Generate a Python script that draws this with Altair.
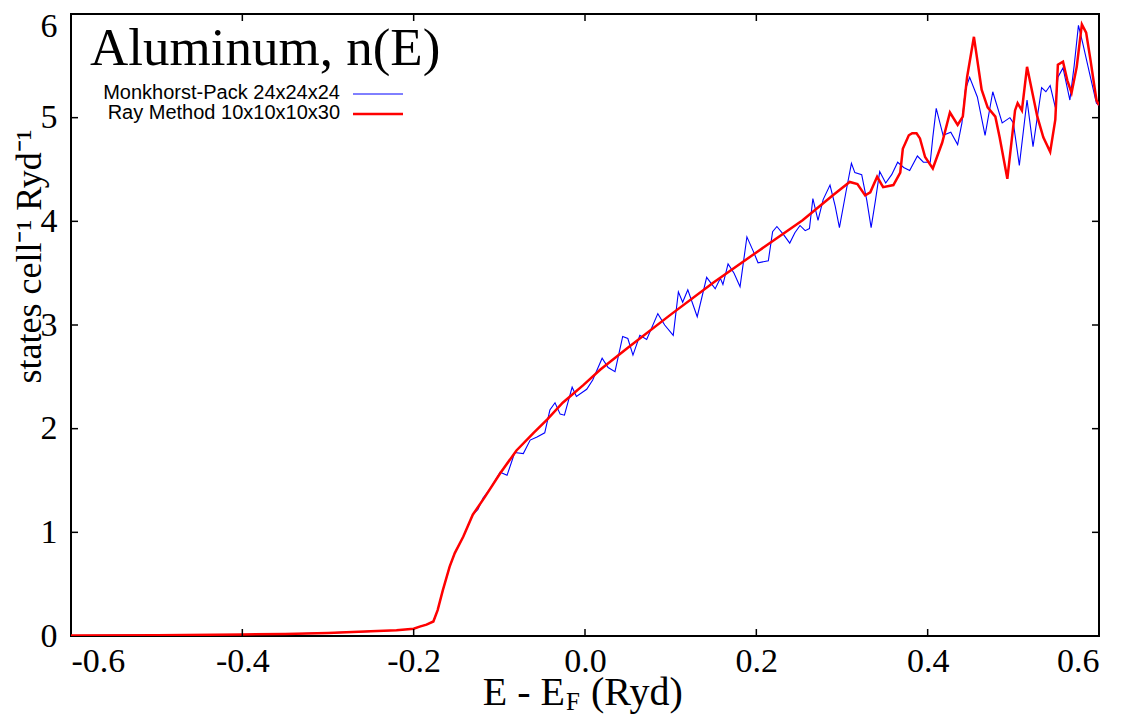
import altair as alt
import pandas as pd

# Monkhorst-Pack 24x24x24 (blue, noisy)
mp_x = [-0.6, -0.5, -0.4, -0.35, -0.3, -0.25, -0.22, -0.2, -0.193, -0.185, -0.177, -0.172,
        -0.166, -0.158, -0.152, -0.142, -0.131, -0.125, -0.119, -0.11, -0.099, -0.091,
        -0.082, -0.072, -0.064, -0.056, -0.047, -0.041, -0.035, -0.029, -0.024, -0.015,
        -0.01, 0.002, 0.009, 0.02, 0.027, 0.035, 0.044, 0.05, 0.056, 0.064, 0.072, 0.085,
        0.093, 0.103, 0.109, 0.114, 0.12, 0.131, 0.142, 0.152, 0.158, 0.161, 0.167, 0.174,
        0.181, 0.189, 0.196, 0.202, 0.214, 0.219, 0.224, 0.232, 0.239, 0.245, 0.251, 0.257,
        0.262, 0.266, 0.272, 0.278, 0.286, 0.292, 0.297, 0.305, 0.311, 0.315, 0.323, 0.329,
        0.334, 0.339, 0.344, 0.351, 0.358, 0.365, 0.372, 0.379, 0.388, 0.395, 0.403, 0.406,
        0.41, 0.418, 0.427, 0.435, 0.44, 0.444, 0.449, 0.458, 0.467, 0.476, 0.487, 0.496,
        0.5, 0.507, 0.516, 0.523, 0.533, 0.538, 0.543, 0.549, 0.552, 0.558, 0.566, 0.571,
        0.576, 0.581, 0.59, 0.597, 0.6]
mp_y = [0.005, 0.008, 0.015, 0.02, 0.03, 0.045, 0.055, 0.07, 0.09, 0.11, 0.14, 0.25,
        0.44, 0.67, 0.8, 0.96, 1.17, 1.22, 1.33, 1.43, 1.58, 1.55,
        1.77, 1.76, 1.89, 1.92, 1.96, 2.18, 2.25, 2.14, 2.13, 2.4,
        2.31, 2.38, 2.47, 2.68, 2.59, 2.55, 2.89, 2.87, 2.71, 2.9, 2.86, 3.11,
        3.0, 2.9, 3.32, 3.22, 3.34, 3.08, 3.46, 3.35, 3.45, 3.39, 3.59, 3.5,
        3.37, 3.85, 3.72, 3.6, 3.62, 3.9, 3.95, 3.87, 3.79, 3.89, 3.96, 3.91,
        3.93, 4.22, 4.01, 4.21, 4.35, 4.15, 3.94, 4.3, 4.56, 4.47, 4.45, 4.2,
        3.94, 4.2, 4.48, 4.37, 4.45, 4.57, 4.52, 4.49, 4.63, 4.57, 4.57, 4.81,
        5.09, 4.83, 4.86, 4.74, 4.95, 5.27, 5.39, 5.2, 4.83, 5.25, 4.95, 5.0,
        4.95, 4.54, 5.17, 4.72, 5.29, 5.25, 5.31, 5.1, 5.39, 5.48, 5.17, 5.5,
        5.89, 5.72, 5.39, 5.14, 5.12]

# Ray Method 10x10x10x30 (red, smooth)
ray_x = [-0.6, -0.5, -0.4, -0.35, -0.3, -0.25, -0.22, -0.2, -0.193, -0.185, -0.177, -0.172,
         -0.166, -0.158, -0.152, -0.142, -0.131, -0.117, -0.099, -0.08, -0.06, -0.044,
         -0.026, -0.002, 0.018, 0.05, 0.1, 0.15, 0.2, 0.254, 0.289, 0.309, 0.318, 0.327,
         0.333, 0.341, 0.348, 0.36, 0.368, 0.371, 0.378, 0.382, 0.387, 0.391, 0.397, 0.406,
         0.417, 0.426, 0.435, 0.441, 0.446, 0.454, 0.463, 0.47, 0.479, 0.484, 0.493, 0.502,
         0.505, 0.51, 0.516, 0.528, 0.535, 0.543, 0.549, 0.552, 0.558, 0.563, 0.568, 0.574,
         0.58, 0.585, 0.59, 0.597, 0.6]
ray_y = [0.005, 0.008, 0.015, 0.02, 0.03, 0.045, 0.055, 0.07, 0.09, 0.11, 0.14, 0.25,
         0.44, 0.67, 0.8, 0.96, 1.17, 1.34, 1.57, 1.79, 1.96, 2.09,
         2.25, 2.42, 2.57, 2.78, 3.1, 3.41, 3.7, 4.01, 4.25, 4.38, 4.36, 4.25,
         4.28, 4.43, 4.33, 4.35, 4.47, 4.7, 4.83, 4.85, 4.85, 4.8, 4.62, 4.51,
         4.76, 5.05, 4.93, 5.01, 5.39, 5.78, 5.27, 5.1, 5.01, 4.81, 4.41, 5.07,
         5.14, 5.07, 5.49, 5.01, 4.81, 4.67, 4.98, 5.51, 5.54, 5.36, 5.24, 5.49,
         5.9, 5.82, 5.56, 5.17, 5.12]

x_tick_values = [-0.6, -0.4, -0.2, 0.0, 0.2, 0.4, 0.6]
y_tick_values = [0, 1, 2, 3, 4, 5, 6]
x_inner_ticks = [-0.4, -0.2, 0.0, 0.2, 0.4]
y_inner_ticks = [1, 2, 3, 4, 5]

series_names = ["Monkhorst-Pack 24x24x24", "Ray Method 10x10x10x30"]
title_text = "Aluminum, n(E)"
y_title = "states cell\u207b\u00b9 Ryd\u207b\u00b9"

W, H = 1028, 622
XMIN, XMAX, YMIN, YMAX = -0.6, 0.6, 0.0, 6.0
tx = 7 * (XMAX - XMIN) / W
ty = 7 * (YMAX - YMIN) / H

mp_df = pd.DataFrame({"x": mp_x, "y": mp_y})
ray_df = pd.DataFrame({"x": ray_x, "y": ray_y})

xs = alt.Scale(domain=[XMIN, XMAX], nice=False, zero=False)
ys = alt.Scale(domain=[YMIN, YMAX], nice=False, zero=False)

serif = "Liberation Serif"
sans = "Liberation Sans"

x_axis = alt.Axis(values=x_tick_values, title=None, ticks=False, domain=False, grid=False,
                  labelFont=serif, labelFontSize=34, labelColor="black", labelPadding=8,
                  labelExpr="datum.value < 0 ? '-' + format(-datum.value, '.1f') : format(datum.value, '.1f')")
y_axis = alt.Axis(values=y_tick_values, title=y_title, ticks=False, domain=False, grid=False,
                  labelFont=serif, labelFontSize=34, labelColor="black", labelPadding=14,
                  labelOffset={"condition": {"test": "datum.value == 6", "value": 12}, "value": 0},
                  format="d", titleFont=serif, titleFontSize=36, titleFontWeight="normal",
                  titleColor="black", titleX=-31, titleY=242, titleAlign="center",
                  titleBaseline="alphabetic", titleAngle=270)

blue = alt.Chart(mp_df).mark_line(color="#0000ff", strokeWidth=1.1, clip=True).encode(
    x=alt.X("x:Q", scale=xs, axis=x_axis),
    y=alt.Y("y:Q", scale=ys, axis=y_axis),
)
red = alt.Chart(ray_df).mark_line(color="#ff0000", strokeWidth=2.5, clip=True).encode(
    x=alt.X("x:Q", scale=xs),
    y=alt.Y("y:Q", scale=ys),
)

vt = pd.DataFrame(
    [{"x": v, "y1": YMIN, "y2": YMIN + ty} for v in x_inner_ticks]
    + [{"x": v, "y1": YMAX, "y2": YMAX - ty} for v in x_inner_ticks]
)
ht = pd.DataFrame(
    [{"y": v, "x1": XMIN, "x2": XMIN + tx} for v in y_inner_ticks]
    + [{"y": v, "x1": XMAX, "x2": XMAX - tx} for v in y_inner_ticks]
)
vticks = alt.Chart(vt).mark_rule(color="black", strokeWidth=1.5).encode(
    x=alt.X("x:Q", scale=xs), y=alt.Y("y1:Q", scale=ys), y2="y2:Q")
hticks = alt.Chart(ht).mark_rule(color="black", strokeWidth=1.5).encode(
    y=alt.Y("y:Q", scale=ys), x=alt.X("x1:Q", scale=xs), x2="x2:Q")

one = pd.DataFrame({"a": [0]})
title_mark = alt.Chart(one).mark_text(text=title_text, font=serif, fontSize=53, align="left",
                                      baseline="alphabetic", color="black").encode(
    x=alt.value(19), y=alt.value(51))

leg_t1 = alt.Chart(one).mark_text(text=series_names[0], font=sans, fontSize=20, align="right",
                                  baseline="alphabetic", color="black").encode(
    x=alt.value(269), y=alt.value(85))
leg_t2 = alt.Chart(one).mark_text(text=series_names[1], font=sans, fontSize=20, align="right",
                                  baseline="alphabetic", color="black").encode(
    x=alt.value(269), y=alt.value(105))
leg_l1 = alt.Chart(one).mark_rule(color="#0000ff", strokeWidth=1).encode(
    x=alt.value(282), x2=alt.value(332), y=alt.value(80))
leg_l2 = alt.Chart(one).mark_rule(color="#ff0000", strokeWidth=2.5).encode(
    x=alt.value(282), x2=alt.value(332), y=alt.value(100))

xt1 = alt.Chart(one).mark_text(text="E - E", font=serif, fontSize=40, align="right",
                               baseline="alphabetic", color="black").encode(
    x=alt.value(494), y=alt.value(691))
xt2 = alt.Chart(one).mark_text(text="F", font=serif, fontSize=25, align="left",
                               baseline="alphabetic", color="black").encode(
    x=alt.value(495), y=alt.value(696))
xt3 = alt.Chart(one).mark_text(text="(Ryd)", font=serif, fontSize=40, align="left",
                               baseline="alphabetic", color="black").encode(
    x=alt.value(520), y=alt.value(691))

chart = alt.layer(
    blue, red, vticks, hticks, title_mark, leg_t1, leg_t2, leg_l1, leg_l2, xt1, xt2, xt3
).properties(
    width=W, height=H,
    autosize=alt.AutoSizeParams(type="none"),
    padding={"left": 63, "top": 6, "right": 18, "bottom": 85},
    background="white",
).configure_view(stroke="black", strokeWidth=2)

chart.save("out.html", embed_options={"renderer": "svg", "actions": False})
